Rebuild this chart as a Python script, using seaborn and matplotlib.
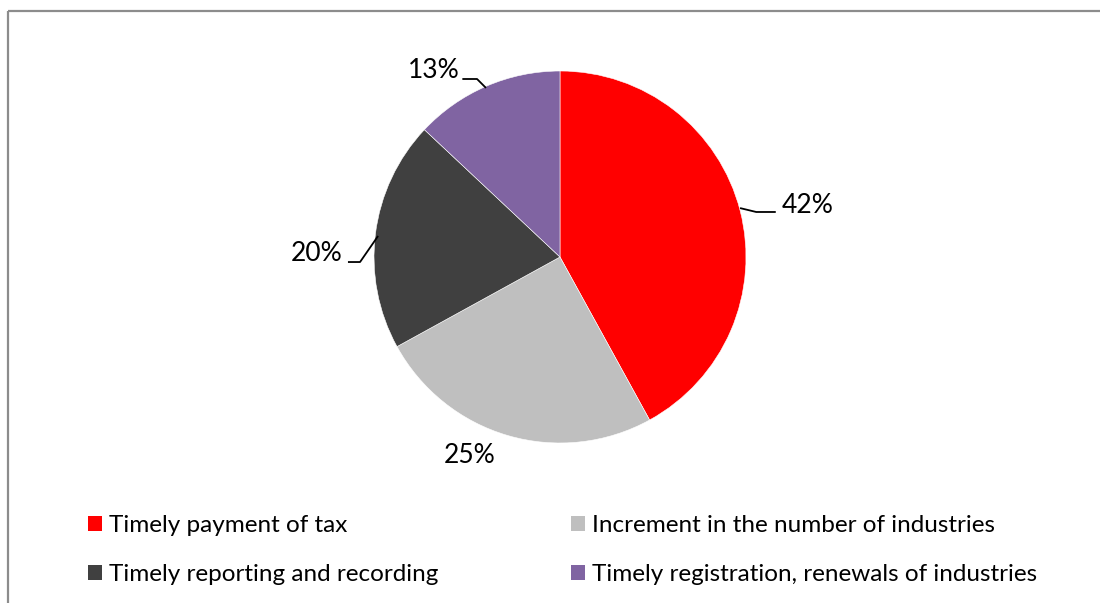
import matplotlib
matplotlib.use("Agg")
import matplotlib.pyplot as plt
import seaborn as sns
from matplotlib.patches import Patch
from matplotlib.lines import Line2D

# Survey shares (percent)
categories = [
    "Timely payment of tax",
    "Increment in the number of industries",
    "Timely reporting and recording",
    "Timely registration, renewals of industries",
]
shares = [42, 25, 20, 13]
colors = ["#FF0000", "#BFBFBF", "#404040", "#8064A2"]

sns.set_theme(style="white")
plt.rcParams["font.family"] = ["Lato", "DejaVu Sans"]

W, H = 1100, 603
fig = plt.figure(figsize=(W / 100, H / 100), dpi=100)
fig.patch.set_facecolor("white")

# Pie axes: centre at (560, 257) px, radius 186 px
cx, cy, r_px, half = 560, 257, 186, 300
ax = fig.add_axes([(cx - half) / W, (H - cy - half) / H, 2 * half / W, 2 * half / H])

wedges, _ = ax.pie(
    shares,
    colors=colors,
    startangle=90,
    counterclock=False,
    radius=1.0,
    wedgeprops=dict(edgecolor="white", linewidth=0.4),
)
lim = half / r_px
ax.set_xlim(-lim, lim)
ax.set_ylim(-lim, lim)
ax.set_aspect("equal")
ax.axis("off")

# Label placement: text anchor, alignment and optional leader path (in radius units)
label_style = [
    dict(xy=(1.19, 0.275), ha="left", leader=[(0.968, 0.263), (1.055, 0.242), (1.16, 0.242)]),
    dict(xy=(-0.484, -1.065), ha="center", leader=None),
    dict(xy=(-1.17, 0.02), ha="right", leader=[(-0.978, 0.113), (-1.075, -0.027), (-1.14, -0.027)]),
    dict(xy=(-0.54, 1.0), ha="right", leader=[(-0.398, 0.909), (-0.446, 0.957), (-0.525, 0.957)]),
]
for val, st in zip(shares, label_style):
    ax.text(st["xy"][0], st["xy"][1], f"{val}%", ha=st["ha"], va="center",
            fontsize=19, color="black")
    if st["leader"]:
        xs, ys = zip(*st["leader"])
        ax.plot(xs, ys, color="black", lw=1.3, clip_on=False, solid_capstyle="butt")

# Legend in two columns
def make_legend(idx, x_px):
    handles = [Patch(facecolor=colors[i], edgecolor="none", label=categories[i]) for i in idx]
    leg = fig.legend(
        handles=handles,
        loc="upper left",
        bbox_to_anchor=(x_px / W, 1 - 515 / H),
        frameon=False,
        fontsize=17.5,
        handlelength=0.58,
        handleheight=0.58,
        handletextpad=0.28,
        labelspacing=1.17,
        borderpad=0,
        borderaxespad=0,
    )
    for t in leg.get_texts():
        t.set_color("black")
    return leg

make_legend([0, 2], 88)
make_legend([1, 3], 571)

# Partial chart frame (top and left edges)
frame_kw = dict(color="#8C8C8C", lw=1.6, transform=fig.transFigure, solid_capstyle="butt")
fig.add_artist(Line2D([8 / W, 1.0], [1 - 11 / H, 1 - 11 / H], **frame_kw))
fig.add_artist(Line2D([8 / W, 8 / W], [1 - 11 / H, 0.0], **frame_kw))

fig.savefig("out.png", dpi=100, facecolor="white")
